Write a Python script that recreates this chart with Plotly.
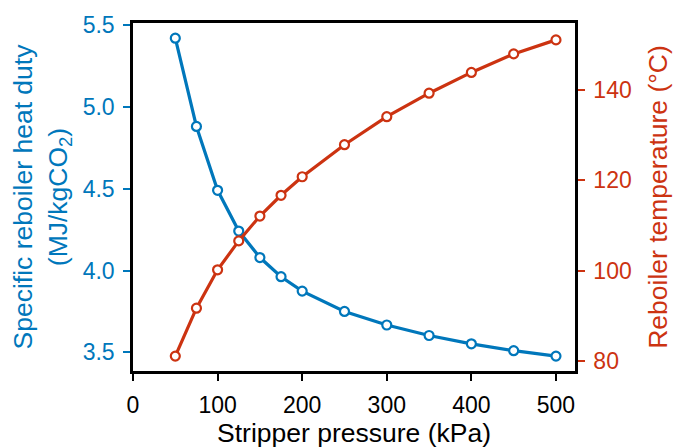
import plotly.graph_objects as go

pressure_kpa = [50, 75, 100, 125, 150, 175, 200, 250, 300, 350, 400, 450, 500]
heat_duty = [5.419, 4.880, 4.490, 4.241, 4.079, 3.962, 3.874, 3.750, 3.667, 3.603, 3.552, 3.510, 3.477]
reboiler_temp = [81.1, 91.7, 100.2, 106.6, 112.1, 116.7, 120.8, 127.9, 134.1, 139.3, 143.9, 148.0, 151.1]

x_ticks = [0, 100, 200, 300, 400, 500]
y1_ticks = [3.5, 4.0, 4.5, 5.0, 5.5]
y1_ticktext = ["3.5", "4.0", "4.5", "5.0", "5.5"]
y2_ticks = [80, 100, 120, 140]

BLUE = "#0077BB"
RED = "#CC3311"
FONT = "Liberation Sans, Arial, sans-serif"

fig = go.Figure()
fig.add_trace(go.Scatter(
    x=pressure_kpa, y=heat_duty, mode="lines+markers",
    line=dict(color=BLUE, width=3.2),
    marker=dict(symbol="circle", size=9, color="white", line=dict(color=BLUE, width=2.2)),
    yaxis="y", showlegend=False,
))
fig.add_trace(go.Scatter(
    x=pressure_kpa, y=reboiler_temp, mode="lines+markers",
    line=dict(color=RED, width=3.2),
    marker=dict(symbol="circle", size=9, color="white", line=dict(color=RED, width=2.2)),
    yaxis="y2", showlegend=False,
))

fig.update_layout(
    width=675, height=448,
    margin=dict(l=133, r=100, t=23, b=77, autoexpand=False),
    paper_bgcolor="white", plot_bgcolor="white",
    font=dict(family=FONT, size=23, color="black"),
    xaxis=dict(
        range=[0, 522.5], tickvals=x_ticks, showgrid=False, zeroline=False,
        showline=True, linecolor="black", linewidth=2.5, mirror=True,
        ticks="outside", ticklen=7, tickwidth=2, tickcolor="black",
        tickfont=dict(size=23, color="black"), ticklabelstandoff=5,
        title=dict(text="Stripper pressure (kPa)", font=dict(size=26.5, color="black"), standoff=7),
        automargin=False,
    ),
    yaxis=dict(
        range=[3.386, 5.512], tickvals=y1_ticks, ticktext=y1_ticktext,
        showgrid=False, zeroline=False,
        showline=True, linecolor="black", linewidth=2.5,
        ticks="outside", ticklen=7, tickwidth=2, tickcolor=BLUE,
        tickfont=dict(size=23, color=BLUE), ticklabelstandoff=4,
        title=dict(text="Specific reboiler heat duty<br>(MJ/kgCO<sub>2</sub>)",
                   font=dict(size=26.5, color=BLUE), standoff=8),
        automargin=False,
    ),
    yaxis2=dict(
        range=[77.8, 154.84], tickvals=y2_ticks, overlaying="y", side="right",
        showgrid=False, zeroline=False,
        showline=True, linecolor="black", linewidth=2.5,
        ticks="outside", ticklen=7, tickwidth=2, tickcolor=RED,
        tickfont=dict(size=23, color=RED), ticklabelstandoff=4,
        title=dict(text="Reboiler temperature (°C)", font=dict(size=26.5, color=RED), standoff=18),
        automargin=False,
    ),
)

fig.write_html("out.html")
